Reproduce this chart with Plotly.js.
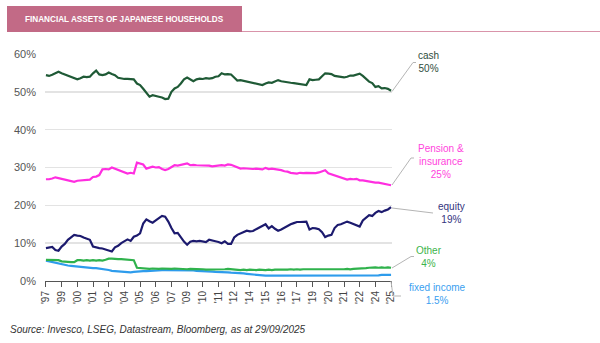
<!DOCTYPE html>
<html>
<head>
<meta charset="utf-8">
<script src="https://cdn.plot.ly/plotly-3.0.1.min.js"></script>
<style>
html,body{margin:0;padding:0;background:#fff;}
#chart{width:600px;height:343px;}
</style>
</head>
<body>
<div id="chart"></div>
<script>
// Quarterly observations, 1997Q4 .. 2025Q2
const quarters = [];
for (let y = 1997; y <= 2025; y++) {
  for (let q = 1; q <= 4; q++) {
    if ((y === 1997 && q < 4) || (y === 2025 && q > 2)) continue;
    quarters.push(y + "Q" + q);
  }
}
const tickQuarters = ["1997Q4","1999Q1","2000Q2","2001Q3","2002Q4","2004Q1","2005Q2","2006Q3","2007Q4","2009Q1","2010Q2","2011Q3","2012Q4","2014Q1","2015Q2","2016Q3","2017Q4","2019Q1","2020Q2","2021Q3","2022Q4","2024Q1","2025Q2"];
const tickLabels = ["'97","'99","'00","'01","'02","'04","'05","'06","'07","'09","'10","'11","'12","'14","'15","'16","'17","'19","'20","'21","'22","'24","'25"];

const cash = [54.4,54.2,54.5,54.9,55.3,54.9,54.6,54.2,54.0,53.8,
53.3,53.6,54.0,53.9,54.0,54.9,55.6,54.6,54.4,54.6,
55.1,54.7,54.4,53.7,53.5,53.4,53.4,53.4,53.3,52.2,
51.8,50.8,49.6,48.7,49.1,49.0,48.7,48.5,48.1,48.2,
50.0,50.9,51.3,52.2,53.3,53.8,53.4,52.8,53.3,53.5,
53.4,53.6,53.5,53.6,54.0,54.1,54.9,54.6,54.7,54.6,
53.8,53.0,53.1,52.9,52.7,52.6,52.4,52.3,52.0,51.8,
52.2,52.5,52.4,52.8,53.1,52.8,52.6,52.5,52.4,52.3,
52.2,52.1,52.0,51.8,53.3,53.1,53.2,53.3,54.1,54.9,
54.8,54.7,54.2,54.0,53.9,53.8,54.0,54.3,54.3,54.6,
54.8,54.2,53.4,52.7,52.3,51.3,51.5,50.9,51.0,50.8,50.3];

const pension = [26.9,26.9,27.1,27.4,27.2,27.0,26.8,26.6,26.3,26.2,
26.5,26.6,26.7,26.8,26.8,27.5,27.6,28.0,29.5,29.6,
29.5,30.0,29.7,29.3,29.0,28.6,28.4,28.6,28.4,31.3,
31.1,30.8,29.7,29.9,30.2,30.0,30.1,29.6,29.3,29.6,
30.0,30.6,30.5,30.7,31.0,31.1,30.6,30.7,30.6,30.6,
30.5,30.6,30.5,30.3,30.4,30.5,30.6,30.5,30.8,30.7,
30.3,30.1,29.7,29.8,29.7,29.7,29.6,29.7,29.5,29.5,
29.9,29.6,29.7,29.6,29.4,29.3,29.0,28.9,28.6,28.4,
28.4,28.6,28.5,28.6,28.6,28.6,28.5,28.7,28.9,29.3,
28.5,28.2,27.9,27.5,27.3,27.0,26.8,27.0,26.9,27.0,
26.6,26.6,26.4,26.2,26.1,26.0,26.0,25.8,25.7,25.5,25.3];

const equity = [8.7,8.9,9.0,8.2,8.0,9.1,9.8,10.9,11.6,12.2,
12.0,11.9,11.5,11.2,10.9,9.1,8.8,8.7,8.6,8.4,
8.1,7.8,8.9,9.3,10.0,10.4,11.0,10.6,11.7,12.0,
12.6,15.2,16.3,15.8,15.4,16.0,16.5,17.2,17.0,15.7,
14.0,12.6,12.7,11.5,10.4,9.6,10.4,10.6,10.5,10.6,
10.4,10.3,10.9,10.6,10.5,10.3,10.0,10.5,9.8,9.8,
11.5,12.2,12.6,13.0,13.3,13.1,13.2,13.7,14.1,14.5,
15.0,13.9,14.5,13.8,13.3,13.6,14.1,14.4,15.0,15.3,
15.6,15.6,15.7,15.7,13.6,14.0,13.9,13.7,12.9,11.6,
12.0,12.2,14.0,14.8,15.0,15.3,15.7,15.4,15.0,14.6,
14.4,16.0,16.8,17.4,17.2,18.0,18.5,18.2,18.6,18.9,19.5];

const other = [5.6,5.6,5.5,5.7,5.5,5.2,5.1,5.0,5.0,5.0,
5.5,5.5,5.4,5.5,5.4,5.5,5.4,5.5,5.4,5.6,
5.9,5.9,5.8,5.8,5.8,5.7,5.7,5.6,5.5,3.5,
3.4,3.3,3.3,3.2,3.3,3.2,3.2,3.3,3.2,3.2,
3.2,3.3,3.2,3.2,3.2,3.1,3.2,3.2,3.1,3.2,
3.1,3.0,3.0,3.1,3.0,3.1,3.0,3.1,3.2,3.1,
3.0,2.9,2.9,3.0,2.9,3.0,2.9,2.9,3.0,2.9,
2.9,3.0,2.9,3.0,3.0,2.9,3.0,3.0,3.1,3.0,
3.1,3.0,3.1,3.1,3.0,3.1,3.0,3.1,3.1,3.0,
3.1,3.0,3.1,3.1,3.0,3.1,3.2,3.1,3.2,3.2,
3.3,3.3,3.4,3.5,3.6,3.6,3.5,3.6,3.5,3.6,3.5];

const fixedIncome = [5.4,5.2,5.0,4.8,4.6,4.3,4.2,4.1,4.0,3.9,
3.8,3.7,3.7,3.6,3.5,3.4,3.4,3.3,3.2,3.0,
2.9,2.7,2.6,2.5,2.4,2.4,2.3,2.3,2.4,2.5,
2.5,2.6,2.6,2.7,2.7,2.8,2.8,2.9,2.9,2.9,
2.9,2.9,2.9,2.9,2.8,2.8,2.8,2.8,2.7,2.7,
2.6,2.6,2.5,2.5,2.4,2.4,2.3,2.3,2.3,2.2,
2.2,2.1,2.0,2.0,1.9,1.8,1.7,1.6,1.5,1.5,
1.4,1.4,1.4,1.3,1.3,1.3,1.3,1.3,1.3,1.3,
1.3,1.3,1.3,1.3,1.3,1.3,1.3,1.3,1.3,1.3,
1.3,1.3,1.3,1.3,1.3,1.3,1.3,1.4,1.4,1.4,
1.4,1.4,1.4,1.5,1.5,1.5,1.5,1.6,1.6,1.6,1.6];

const seriesNames = ["cash","Pension & insurance","equity","Other","fixed income"];
const endLabels = ["cash<br>50%","Pension &<br>insurance<br>25%","equity<br>19%","Other<br>4%","fixed income<br>1.5%"];
const colors = ["#1f5a36","#ff2ee0","#1c1a6e","#2fb24c","#2e9cec"];
const labelColors = ["#2e4d3c","#ff44dd","#34347e","#3cb44b","#3aa0f0"];

const allSeries = [cash, pension, equity, other, fixedIncome];
const order = [4,3,2,1,0];
const traces = order.map(k => ({
  type: "scatter", mode: "lines",
  x: quarters, y: allSeries[k],
  name: seriesNames[k],
  line: {color: colors[k], width: 2.2, shape: "linear"},
  hoverinfo: "skip"
}));

// plot area geometry helpers (paper coords)
const L = 45, R = 392, T = 54, B = 281;
const px = v => (v - L) / (R - L);
const py = v => (B - v) / (B - T);

const lineStyle = {color: "#b5b5b5", width: 1};
const shapes = [
  {type:"rect", xref:"paper", yref:"paper", x0:px(7), x1:px(242), y0:py(32), y1:py(6), fillcolor:"#c26a86", line:{width:0}, layer:"above"},
  {type:"line", xref:"paper", yref:"paper", x0:px(242), x1:px(600), y0:py(31.5), y1:py(31.5), line:{color:"#d994aa", width:1}},
  // leader lines
  {type:"path", xref:"paper", yref:"paper", path:`M ${px(392)} ${py(91.5)} L ${px(413)} ${py(62.5)} L ${px(416)} ${py(62.5)}`, line:lineStyle},
  {type:"path", xref:"paper", yref:"paper", path:`M ${px(392)} ${py(185)} L ${px(411)} ${py(158)} L ${px(414)} ${py(158)}`, line:lineStyle},
  {type:"path", xref:"paper", yref:"paper", path:`M ${px(392)} ${py(208)} L ${px(433)} ${py(213)}`, line:lineStyle},
  {type:"path", xref:"paper", yref:"paper", path:`M ${px(392)} ${py(268)} L ${px(411)} ${py(256.5)} L ${px(414)} ${py(256.5)}`, line:lineStyle},
  {type:"path", xref:"paper", yref:"paper", path:`M ${px(391)} ${py(281)} L ${px(393)} ${py(296)} L ${px(401)} ${py(296)}`, line:lineStyle}
];

const font = "Liberation Sans, Arial, sans-serif";
const labelPos = [[428,62],[441,161],[451,213],[429,257],[437,294]];
const annotations = labelPos.map((p, k) => ({
  xref:"paper", yref:"paper", x:px(p[0]), y:py(p[1]), xanchor:"center", yanchor:"middle",
  text:endLabels[k], showarrow:false, align:"center",
  font:{family:font, size:10, color:labelColors[k]}
}));
annotations.push({
  xref:"paper", yref:"paper", x:px(124.5), y:py(19.5), xanchor:"center", yanchor:"middle",
  text:"<b>FINANCIAL ASSETS OF JAPANESE HOUSEHOLDS</b>", showarrow:false,
  font:{family:font, size:8.2, color:"#ffffff"}
});
annotations.push({
  xref:"paper", yref:"paper", x:px(8), y:py(329), xanchor:"left", yanchor:"middle",
  text:"<i>Source: Invesco, LSEG, Datastream, Bloomberg, as at 29/09/2025</i>", showarrow:false,
  font:{family:font, size:10, color:"#333333"}
});

const layout = {
  width:600, height:343,
  margin:{l:L, r:600-R, t:T, b:343-B, pad:0},
  paper_bgcolor:"#ffffff", plot_bgcolor:"#ffffff",
  showlegend:false,
  xaxis:{
    type:"category", range:[-0.3, quarters.length - 0.7],
    tickmode:"array", tickvals:tickQuarters, ticktext:tickLabels,
    tickangle:-90, ticks:"outside", ticklen:5, tickwidth:1, tickcolor:"#555",
    showline:true, linecolor:"#555", linewidth:1,
    showgrid:false, zeroline:false,
    tickfont:{family:font, size:10, color:"#444"}
  },
  yaxis:{
    range:[0,60], tickmode:"array", tickvals:[0,10,20,30,40,50,60],
    ticktext:["0%","10%","20%","30%","40%","50%","60%"],
    showgrid:true, gridcolor:"#e3e3e3", gridwidth:1.5,
    zeroline:false, showline:false, ticks:"", ticklabelstandoff:8,
    tickfont:{family:font, size:11, color:"#555"}
  },
  shapes: shapes,
  annotations: annotations
};

Plotly.newPlot("chart", traces, layout, {staticPlot:true, displayModeBar:false});
</script>
</body>
</html>
